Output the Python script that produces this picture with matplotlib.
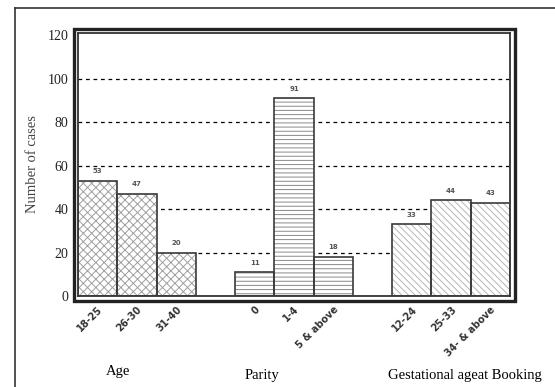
import matplotlib
matplotlib.use('Agg')
import matplotlib.pyplot as plt
from matplotlib.patches import Rectangle
from matplotlib.lines import Line2D

group_names = ['Age', 'Parity', 'Gestational ageat Booking']
age_labels = ['18-25', '26-30', '31-40']
age_counts = [53, 47, 20]
parity_labels = ['0', '1-4', '5 & above']
parity_counts = [11, 91, 18]
gest_labels = ['12-24', '25-33', '34- & above']
gest_counts = [33, 44, 43]

groups = [(age_labels, age_counts, 'xxxx', '#a0a0a0'),
          (parity_labels, parity_counts, '----', '#8a8a8a'),
          (gest_labels, gest_counts, '\\\\\\\\\\', '#b5b5b5')]

plt.rcParams['hatch.linewidth'] = 0.7
fig = plt.figure(figsize=(5.55, 3.87), dpi=100)
ax = fig.add_axes([78 / 555, 1 - 296 / 387, 432 / 555, 263 / 387])

pos = 0
xticks, xlabels = [], []
for labels, counts, hatch, hcol in groups:
    xs = list(range(pos, pos + len(counts)))
    ax.bar(xs, counts, width=1, color='white', edgecolor=hcol, linewidth=0,
           hatch=hatch, zorder=2)
    ax.bar(xs, counts, width=1, fill=False, edgecolor='#3a3a3a', linewidth=1.2, zorder=3)
    for x, v in zip(xs, counts):
        ax.text(x, v + 3, str(v), ha='center', va='bottom', fontsize=5,
                color='#555555', fontweight='bold')
    xticks += xs
    xlabels += labels
    pos += len(counts) + 1

for y in [20, 40, 60, 80, 100]:
    ax.axhline(y, color='black', linestyle=(0, (3, 3)), linewidth=0.9, zorder=1)

ax.set_xlim(-0.5, pos - 1.5)
ax.set_ylim(0, 121)
ax.set_yticks([0, 20, 40, 60, 80, 100, 120])
ax.set_yticklabels(['0', '20', '40', '60', '80', '100', '120'],
                   fontfamily='Liberation Serif', fontsize=10, color='#222222')
ax.tick_params(axis='y', length=0, pad=7)
ax.set_xticks(xticks)
ax.set_xticklabels(xlabels, rotation=45, ha='right', rotation_mode='anchor',
                   fontsize=7, fontweight='bold', color='#333333')
ax.tick_params(axis='x', length=0, pad=6)
for s in ax.spines.values():
    s.set_linewidth(1.3)
    s.set_color('#333333')

ax.set_ylabel('Number of cases', fontfamily='Liberation Serif', fontsize=10.5,
              color='#444444', labelpad=6)

# outer double frame
fig.add_artist(Rectangle((74 / 555, 1 - 301 / 387), 441 / 555, 272 / 387,
                         fill=False, linewidth=2.4, edgecolor='#222222',
                         transform=fig.transFigure))
fig.add_artist(Line2D([15 / 555, 1], [1 - 8 / 387, 1 - 8 / 387], color='#333333',
                      linewidth=1.2, transform=fig.transFigure))
fig.add_artist(Line2D([15 / 555, 15 / 555], [0, 1 - 8 / 387], color='#333333',
                      linewidth=1.2, transform=fig.transFigure))

fig.text(118 / 555, 1 - 372 / 387, group_names[0], ha='center', va='center',
         fontfamily='Liberation Serif', fontsize=10.5)
fig.text(262 / 555, 1 - 375 / 387, group_names[1], ha='center', va='center',
         fontfamily='Liberation Serif', fontsize=10.5)
fig.text(388 / 555, 1 - 375 / 387, group_names[2], ha='left', va='center',
         fontfamily='Liberation Serif', fontsize=10.5)

fig.savefig('out.png', dpi=100)
